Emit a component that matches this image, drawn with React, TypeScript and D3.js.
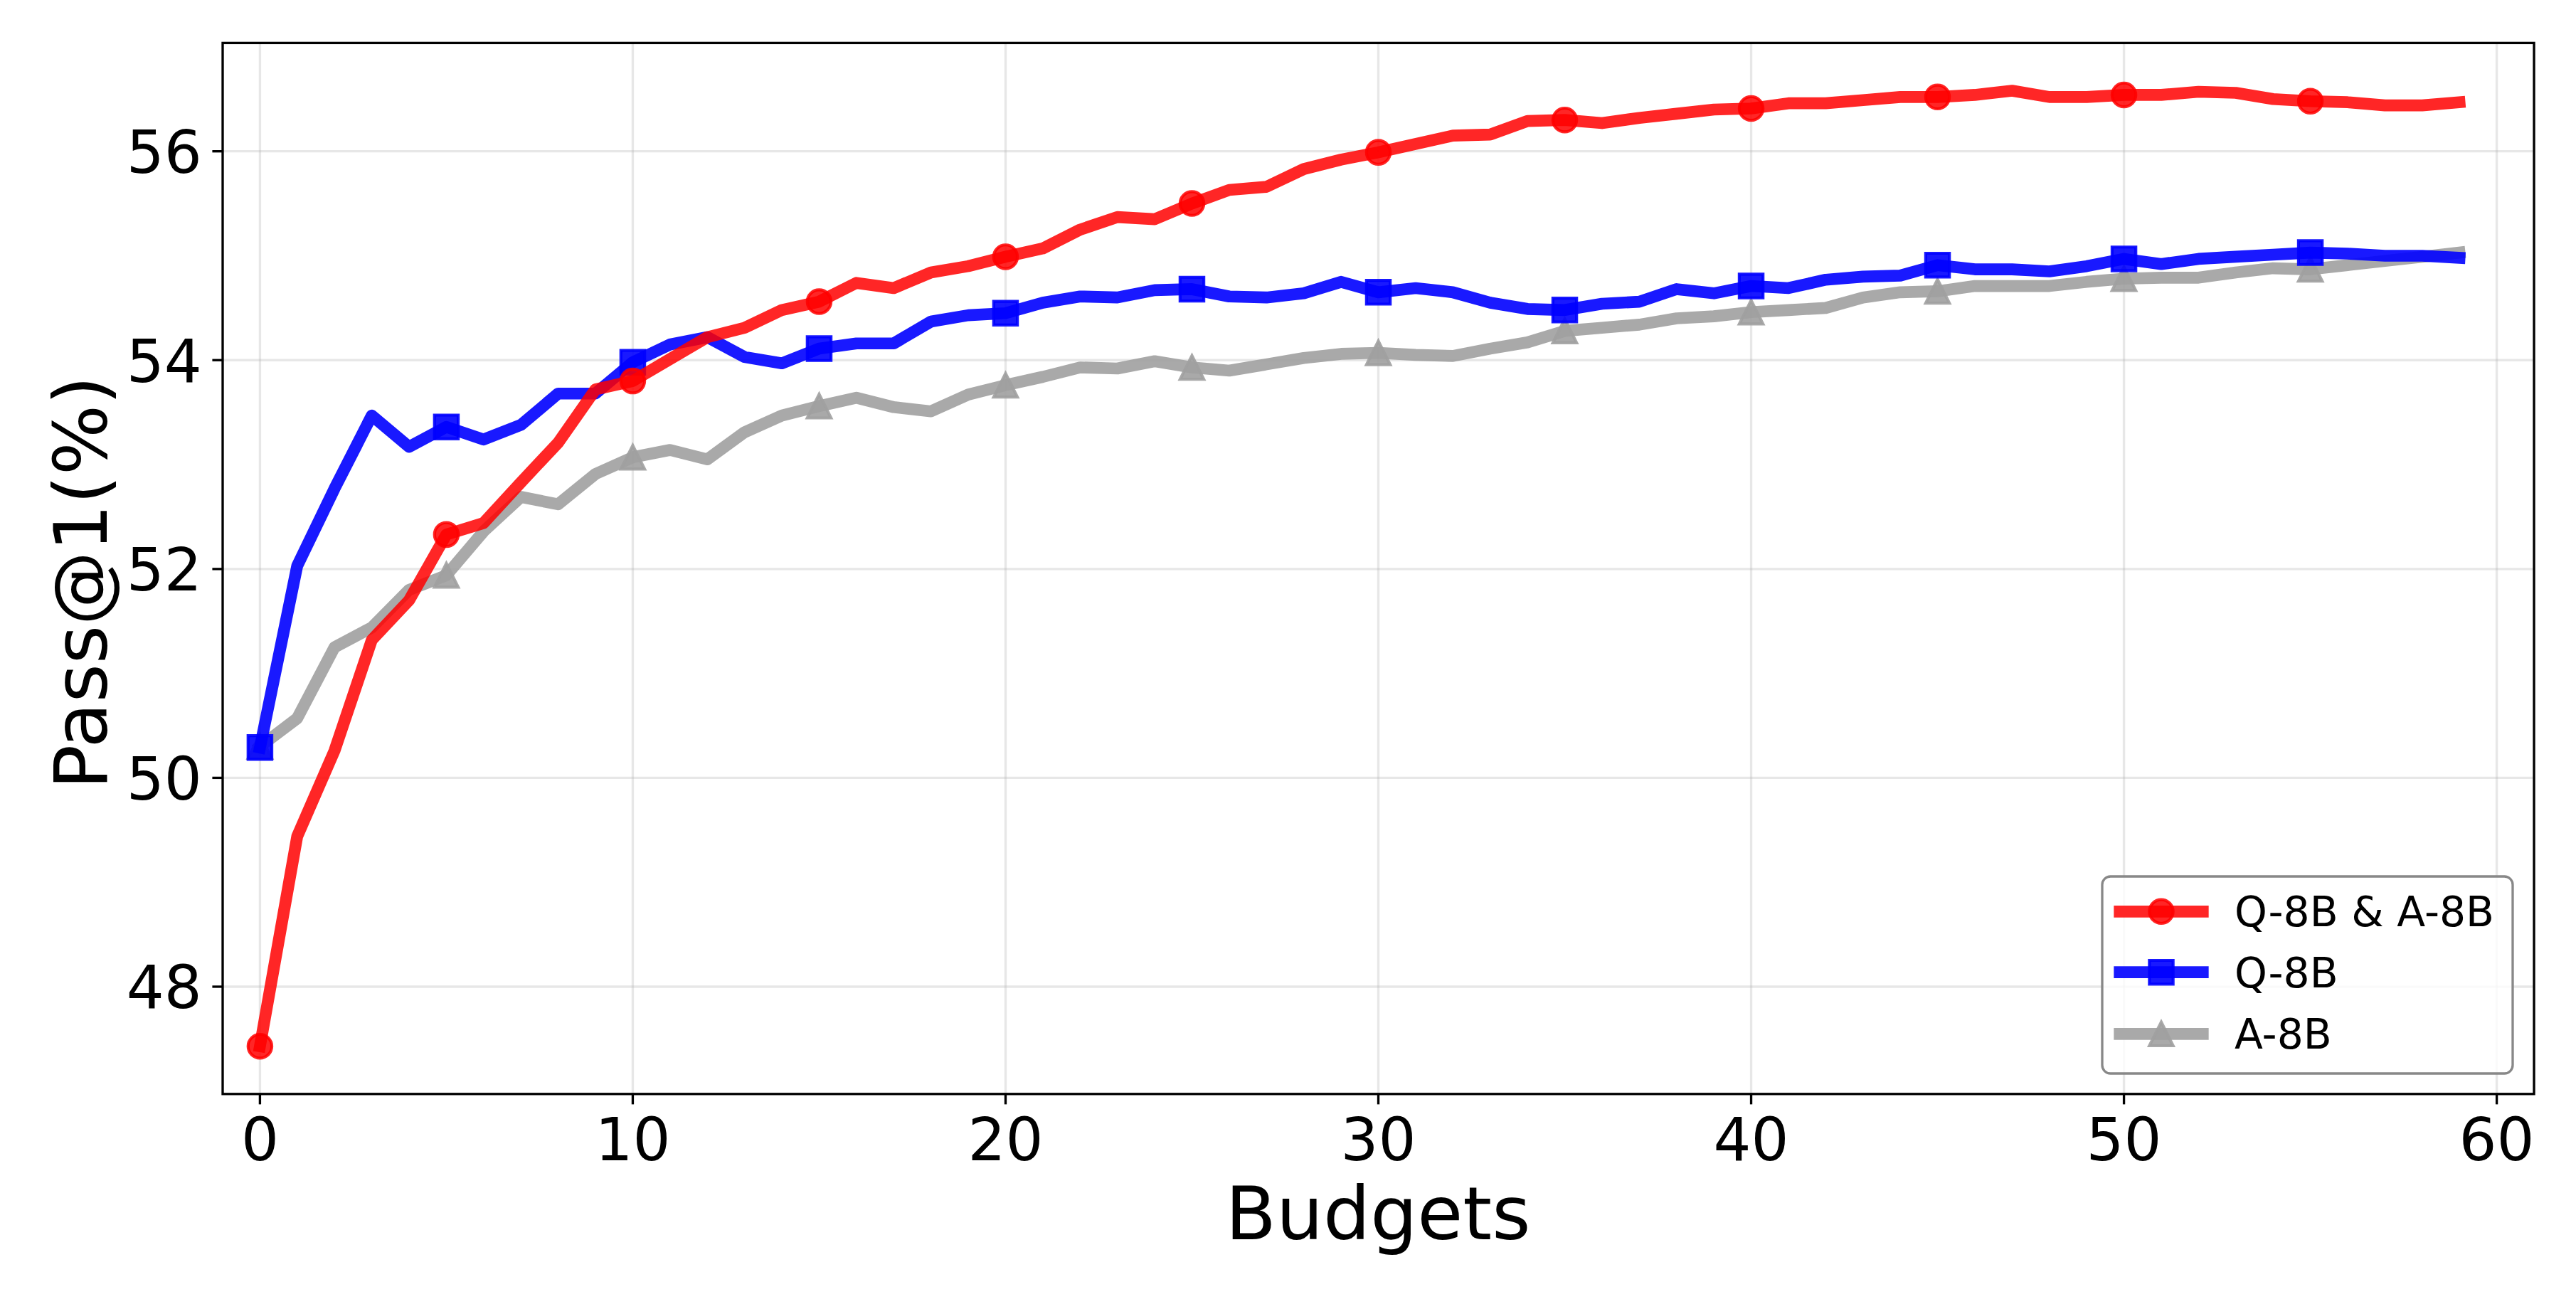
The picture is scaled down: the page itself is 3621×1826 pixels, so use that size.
import React from 'react';
import * as d3 from 'd3';

// ---------- data ----------
const budgets: number[] = Array.from({ length: 60 }, (_, i) => i);

const qaValues: number[] = [
  47.43, 49.44, 50.26, 51.32, 51.70, 52.33, 52.44, 52.83, 53.21, 53.72,
  53.80, 54.01, 54.22, 54.31, 54.48, 54.56, 54.74, 54.69, 54.84, 54.90,
  54.99, 55.07, 55.25, 55.37, 55.35, 55.50, 55.63, 55.66, 55.83, 55.92,
  55.99, 56.07, 56.15, 56.16, 56.29, 56.30, 56.27, 56.32, 56.36, 56.40,
  56.41, 56.46, 56.46, 56.49, 56.52, 56.52, 56.54, 56.58, 56.52, 56.52,
  56.54, 56.54, 56.57, 56.56, 56.50, 56.48, 56.47, 56.44, 56.44, 56.47,
];

const qValues: number[] = [
  50.29, 52.03, 52.77, 53.47, 53.17, 53.36, 53.24, 53.38, 53.68, 53.68,
  53.98, 54.15, 54.22, 54.03, 53.97, 54.11, 54.16, 54.16, 54.37, 54.43,
  54.45, 54.55, 54.61, 54.60, 54.67, 54.68, 54.61, 54.60, 54.64, 54.75,
  54.65, 54.69, 54.65, 54.55, 54.49, 54.48, 54.54, 54.56, 54.68, 54.64,
  54.71, 54.69, 54.77, 54.80, 54.81, 54.91, 54.87, 54.87, 54.85, 54.90,
  54.97, 54.92, 54.97, 54.99, 55.01, 55.03, 55.02, 55.00, 55.00, 54.98,
];

const aValues: number[] = [
  50.30, 50.57, 51.25, 51.44, 51.80, 51.94, 52.36, 52.69, 52.62, 52.91,
  53.07, 53.14, 53.05, 53.31, 53.47, 53.56, 53.64, 53.55, 53.51, 53.67,
  53.76, 53.84, 53.93, 53.92, 53.99, 53.93, 53.90, 53.96, 54.02, 54.06,
  54.07, 54.05, 54.04, 54.11, 54.17, 54.28, 54.31, 54.34, 54.40, 54.42,
  54.46, 54.48, 54.50, 54.60, 54.65, 54.66, 54.71, 54.71, 54.71, 54.75,
  54.78, 54.79, 54.79, 54.84, 54.88, 54.87, 54.91, 54.95, 54.99, 55.03,
];

const seriesNames: string[] = ['Q-8B & A-8B', 'Q-8B', 'A-8B'];
const xTicks: number[] = [0, 10, 20, 30, 40, 50, 60];
const yTicks: number[] = [48, 50, 52, 54, 56];
const xLabel = 'Budgets';
const yLabel = 'Pass@1(%)';

// ---------- styling ----------
const W = 3621;
const H = 1826;
const M = { left: 313, right: 3562, top: 60.4, bottom: 1537.8 };
const PT = 300 / 72;
const FONT = "'DejaVu Sans', 'Liberation Sans', sans-serif";

type Style = { color: string; alpha: number; marker: 'o' | 's' | '^' };
const styles: Style[] = [
  { color: '#ff0000', alpha: 0.85, marker: 'o' },
  { color: '#0000ff', alpha: 0.9, marker: 's' },
  { color: '#a0a0a0', alpha: 0.9, marker: '^' },
];

const LW = 4 * PT;
const MS = 8 * PT;
const MEW = 1 * PT;

function markerPath(kind: 'o' | 's' | '^', cx: number, cy: number): string {
  const h = MS / 2;
  if (kind === 'o') {
    return `M${cx + h},${cy} A${h},${h} 0 1,1 ${cx - h},${cy} A${h},${h} 0 1,1 ${cx + h},${cy} Z`;
  }
  if (kind === 's') {
    return `M${cx - h},${cy - h} L${cx + h},${cy - h} L${cx + h},${cy + h} L${cx - h},${cy + h} Z`;
  }
  return `M${cx},${cy - h} L${cx - h},${cy + h} L${cx + h},${cy + h} Z`;
}

export default function App() {
  const all = [...qaValues, ...qValues, ...aValues];
  const ymin = d3.min(all) as number;
  const ymax = d3.max(all) as number;
  const pad = (ymax - ymin) * 0.05;

  const x = d3.scaleLinear().domain([-1, 61]).range([M.left, M.right]);
  const y = d3.scaleLinear().domain([ymin - pad, ymax + pad]).range([M.bottom, M.top]);

  const line = d3
    .line<number>()
    .x((_, i) => x(budgets[i]))
    .y((d) => y(d));

  const series = [qaValues, qValues, aValues];
  const drawOrder = [2, 1, 0];

  const legendX0 = 2955;
  const legendY0 = 1232;
  const legendW = 577;
  const legendH = 277;
  const rowYs = [1281.3, 1366.7, 1453.3];
  const handleC = 3038;
  const handleHalf = (2 * 14 * PT) / 2;

  return (
    <svg
      width={W}
      height={H}
      viewBox={`0 0 ${W} ${H}`}
      style={{ position: 'absolute', left: 0, top: 0, background: '#fff' }}
      fontFamily={FONT}
    >
      <rect x={0} y={0} width={W} height={H} fill="#ffffff" />
      <defs>
        <clipPath id="plotclip">
          <rect x={M.left} y={M.top} width={M.right - M.left} height={M.bottom - M.top} />
        </clipPath>
      </defs>

      {/* grid */}
      <g stroke="#b0b0b0" strokeOpacity={0.3} strokeWidth={0.8 * PT}>
        {xTicks.map((t) => (
          <line key={'gx' + t} x1={x(t)} x2={x(t)} y1={M.top} y2={M.bottom} />
        ))}
        {yTicks.map((t) => (
          <line key={'gy' + t} x1={M.left} x2={M.right} y1={y(t)} y2={y(t)} />
        ))}
      </g>

      {/* series */}
      <g clipPath="url(#plotclip)">
        {drawOrder.map((si) => {
          const st = styles[si];
          const vals = series[si];
          return (
            <g key={'s' + si}>
              <path
                d={line(vals) || ''}
                fill="none"
                stroke={st.color}
                strokeOpacity={st.alpha}
                strokeWidth={LW}
                strokeLinejoin="round"
                strokeLinecap="square"
              />
              {vals.map((v, i) =>
                i % 5 === 0 ? (
                  <path
                    key={'m' + i}
                    d={markerPath(st.marker, x(budgets[i]), y(v))}
                    fill={st.color}
                    fillOpacity={st.alpha}
                    stroke={st.color}
                    strokeOpacity={st.alpha}
                    strokeWidth={MEW}
                    strokeLinejoin="miter"
                  />
                ) : null
              )}
            </g>
          );
        })}
      </g>

      {/* spines */}
      <rect
        x={M.left}
        y={M.top}
        width={M.right - M.left}
        height={M.bottom - M.top}
        fill="none"
        stroke="#000"
        strokeWidth={0.8 * PT}
        strokeLinejoin="miter"
      />

      {/* x ticks */}
      <g>
        {xTicks.map((t) => (
          <g key={'xt' + t}>
            <line x1={x(t)} x2={x(t)} y1={M.bottom} y2={M.bottom + 3.5 * PT} stroke="#000" strokeWidth={0.8 * PT} />
            <text x={x(t)} y={1631} textAnchor="middle" fontSize={20 * PT} fill="#000">
              {t}
            </text>
          </g>
        ))}
      </g>

      {/* y ticks */}
      <g>
        {yTicks.map((t) => (
          <g key={'yt' + t}>
            <line x1={M.left - 3.5 * PT} x2={M.left} y1={y(t)} y2={y(t)} stroke="#000" strokeWidth={0.8 * PT} />
            <text x={M.left - 7 * PT} y={y(t) + 30.5} textAnchor="end" fontSize={20 * PT} fill="#000">
              {t}
            </text>
          </g>
        ))}
      </g>

      {/* axis labels */}
      <text x={1937} y={1742} textAnchor="middle" fontSize={25 * PT} fill="#000">
        {xLabel}
      </text>
      <text
        transform={`translate(150, 819) rotate(-90)`}
        textAnchor="middle"
        fontSize={25 * PT}
        fill="#000"
      >
        {yLabel}
      </text>

      {/* legend */}
      <g>
        <rect
          x={legendX0}
          y={legendY0}
          width={legendW}
          height={legendH}
          rx={0.2 * 14 * PT}
          ry={0.2 * 14 * PT}
          fill="#ffffff"
          fillOpacity={0.8}
          stroke="#888888"
          strokeWidth={0.8 * PT}
        />
        {seriesNames.map((name, si) => {
          const st = styles[si];
          const ry = rowYs[si];
          return (
            <g key={'lg' + si}>
              <line
                x1={handleC - handleHalf}
                x2={handleC + handleHalf}
                y1={ry}
                y2={ry}
                stroke={st.color}
                strokeOpacity={st.alpha}
                strokeWidth={LW}
                strokeLinecap="square"
              />
              <path
                d={markerPath(st.marker, handleC, ry)}
                fill={st.color}
                fillOpacity={st.alpha}
                stroke={st.color}
                strokeOpacity={st.alpha}
                strokeWidth={MEW}
              />
              <text x={3141} y={ry + 21} fontSize={14 * PT} fill="#000">
                {name}
              </text>
            </g>
          );
        })}
      </g>
    </svg>
  );
}
